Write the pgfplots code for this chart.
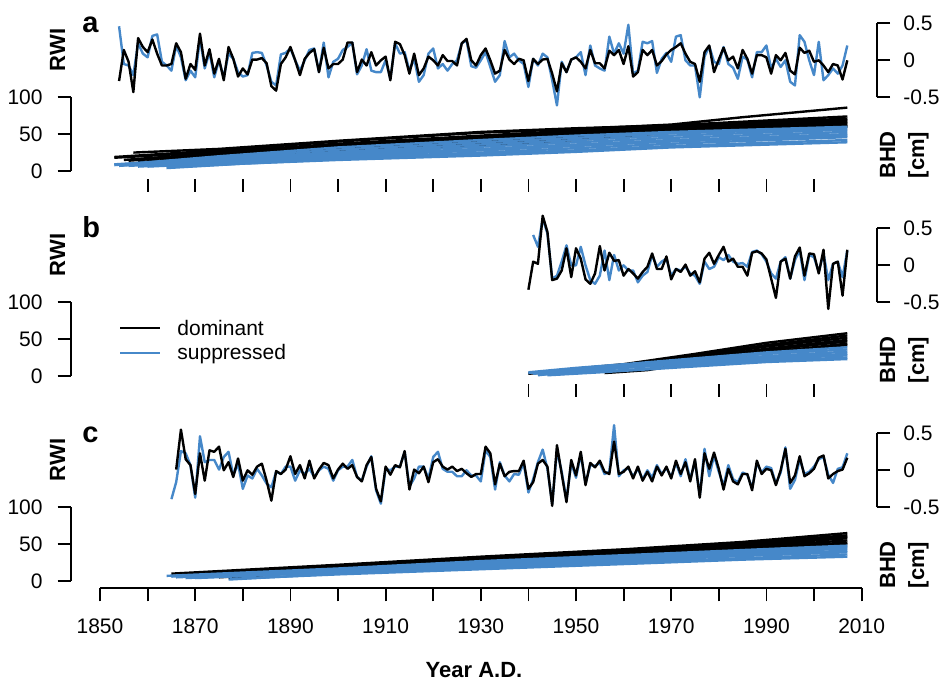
\documentclass[border=0pt]{standalone}
\usepackage{fontspec}
\setmainfont{Liberation Sans}
\usepackage{pgfplots}
\pgfplotsset{compat=1.18}
\definecolor{supp}{RGB}{70,136,201}

% one picture pixel = 0.5pt; x runs 1850 -> 2010 over 100 -> 861.6 px
\pgfplotsset{
  base/.style={scale only axis, clip=false,
    axis line style={line width=0.9pt},
    tick style={line width=0.9pt, black},
    tick align=outside, major tick length=6.5pt,
    tick label style={font=\fontsize{10.5}{12}\selectfont},
    /pgf/number format/assume math mode=true},
  rwi/.style={base, width=403.15pt, height=37pt,
    xmin=1843.84, xmax=2013.24, ymin=-0.5, ymax=0.5,
    axis x line=none, axis y line*=right,
    ytick={-0.5,0,0.5}, yticklabels={-0.5,0,0.5},
    yticklabel style={anchor=west, inner sep=0pt, xshift=6.5pt}},
  bhd/.style={base, width=403.15pt, height=36.85pt,
    xmin=1843.84, xmax=2013.24, ymin=0, ymax=100,
    axis x line=none, axis y line*=left,
    ytick={0,50,100}, yticklabels={0,50,100},
    yticklabel style={anchor=east, inner sep=0pt, xshift=-7.35pt}},
  yr/.style={base, width=380.8pt, height=5pt,
    xmin=1850, xmax=2010, ymin=0, ymax=1,
    axis y line=none, axis x line*=bottom},
  dom/.style={black, line width=1.2pt, line join=round},
  sup/.style={supp, line width=1.2pt, line join=round},
  gd/.style={black, line width=1.2pt},
  gs/.style={supp, line width=1.2pt},
}

\begin{document}
\begin{tikzpicture}[x=0.5pt,y=-0.5pt]
\tikzset{lab/.style={font=\fontsize{11}{13}\selectfont\bfseries, inner sep=0pt}}

%% ---------------- panel a ----------------
\begin{axis}[rwi, at={(35.35pt,-48.65pt)}, anchor=south west]
\addplot[sup] coordinates {
(1854,0.46)(1855,-0.05)(1856,-0.07)(1857,-0.20)(1858,0.23)(1859,0.09)(1860,0.04)(1861,0.33)(1862,0.35)(1863,-0.02)
(1864,-0.07)(1865,-0.14)(1866,0.20)(1867,0.04)(1868,-0.27)(1869,-0.14)(1870,-0.23)(1871,0.30)(1872,-0.11)(1873,0.11)
(1874,-0.23)(1875,0.00)(1876,-0.23)(1877,0.09)(1878,0.02)(1879,-0.16)(1880,-0.22)(1881,-0.20)(1882,0.10)(1883,0.11)
(1884,0.10)(1885,-0.07)(1886,-0.29)(1887,-0.34)(1888,0.08)(1889,0.10)(1890,0.16)(1891,0.00)(1892,-0.14)(1893,0.00)
(1894,0.14)(1895,0.16)(1896,-0.16)(1897,0.24)(1898,-0.23)(1899,-0.02)(1900,0.02)(1901,0.14)(1902,0.18)(1903,0.24)
(1904,-0.19)(1905,-0.07)(1906,0.15)(1907,-0.14)(1908,-0.16)(1909,-0.16)(1910,0.00)(1911,-0.25)(1912,0.23)(1913,0.09)
(1914,0.11)(1915,-0.14)(1916,0.02)(1917,-0.29)(1918,-0.20)(1919,0.09)(1920,0.16)(1921,-0.11)(1922,-0.05)(1923,-0.14)
(1924,-0.05)(1925,0.00)(1926,0.23)(1927,0.27)(1928,-0.08)(1929,-0.10)(1930,0.00)(1931,0.11)(1932,-0.09)(1933,-0.29)
(1934,-0.20)(1935,0.26)(1936,0.04)(1937,0.09)(1938,0.00)(1939,-0.05)(1940,-0.36)(1941,0.02)(1942,-0.07)(1943,0.09)
(1944,0.04)(1945,-0.27)(1946,-0.61)(1947,-0.02)(1948,-0.16)(1949,0.01)(1950,0.04)(1951,0.11)(1952,-0.20)(1953,0.20)
(1954,-0.07)(1955,-0.11)(1956,-0.14)(1957,0.32)(1958,0.09)(1959,0.23)(1960,0.09)(1961,0.48)(1962,-0.18)(1963,-0.14)
(1964,0.25)(1965,0.23)(1966,0.26)(1967,-0.17)(1968,0.02)(1969,0.10)(1970,-0.02)(1971,0.32)(1972,0.34)(1973,0.00)
(1974,-0.07)(1975,-0.07)(1976,-0.50)(1977,0.05)(1978,0.19)(1979,-0.02)(1980,-0.05)(1981,0.18)(1982,-0.05)(1983,-0.10)
(1984,-0.25)(1985,0.05)(1986,0.01)(1987,-0.23)(1988,0.11)(1989,0.11)(1990,0.20)(1991,-0.11)(1992,0.02)(1993,-0.09)
(1994,0.00)(1995,-0.29)(1996,-0.34)(1997,0.34)(1998,0.25)(1999,0.00)(2000,-0.20)(2001,0.25)(2002,-0.27)(2003,-0.20)
(2004,-0.11)(2005,-0.18)(2006,-0.07)(2007,0.20)};
\addplot[dom] coordinates {
(1854,-0.28)(1855,0.14)(1856,-0.02)(1857,-0.43)(1858,0.30)(1859,0.18)(1860,0.11)(1861,0.28)(1862,0.09)(1863,-0.07)
(1864,-0.07)(1865,-0.05)(1866,0.23)(1867,0.11)(1868,-0.25)(1869,-0.05)(1870,-0.13)(1871,0.36)(1872,-0.07)(1873,0.15)
(1874,-0.18)(1875,0.02)(1876,-0.27)(1877,0.18)(1878,0.02)(1879,-0.22)(1880,-0.11)(1881,-0.19)(1882,0.01)(1883,0.01)
(1884,0.03)(1885,-0.04)(1886,-0.35)(1887,-0.41)(1888,-0.05)(1889,0.04)(1890,0.18)(1891,0.00)(1892,-0.20)(1893,0.02)
(1894,0.10)(1895,0.15)(1896,-0.16)(1897,0.17)(1898,-0.11)(1899,-0.05)(1900,-0.05)(1901,0.01)(1902,0.24)(1903,0.24)
(1904,-0.16)(1905,0.01)(1906,-0.07)(1907,0.11)(1908,-0.07)(1909,0.00)(1910,0.05)(1911,-0.27)(1912,0.25)(1913,0.22)
(1914,0.07)(1915,-0.18)(1916,0.09)(1917,-0.20)(1918,-0.11)(1919,0.05)(1920,0.00)(1921,-0.07)(1922,0.07)(1923,-0.01)
(1924,-0.01)(1925,-0.07)(1926,0.23)(1927,0.29)(1928,0.00)(1929,-0.07)(1930,0.07)(1931,0.16)(1932,0.00)(1933,-0.18)
(1934,-0.14)(1935,0.14)(1936,0.01)(1937,-0.05)(1938,0.02)(1939,0.00)(1940,-0.28)(1941,0.02)(1942,-0.05)(1943,0.01)
(1944,0.02)(1945,-0.18)(1946,-0.42)(1947,-0.04)(1948,-0.16)(1949,0.01)(1950,0.04)(1951,-0.02)(1952,-0.11)(1953,0.14)
(1954,-0.04)(1955,-0.04)(1956,-0.11)(1957,0.13)(1958,0.07)(1959,0.14)(1960,-0.05)(1961,0.19)(1962,-0.22)(1963,-0.16)
(1964,0.14)(1965,0.07)(1966,0.14)(1967,-0.07)(1968,-0.01)(1969,0.08)(1970,0.14)(1971,0.18)(1972,0.23)(1973,0.09)
(1974,-0.02)(1975,-0.05)(1976,-0.29)(1977,0.11)(1978,0.20)(1979,-0.16)(1980,0.01)(1981,0.17)(1982,0.00)(1983,0.05)
(1984,-0.11)(1985,0.14)(1986,0.02)(1987,-0.18)(1988,0.07)(1989,0.07)(1990,0.04)(1991,-0.18)(1992,0.07)(1993,0.00)
(1994,0.10)(1995,-0.14)(1996,-0.19)(1997,0.17)(1998,0.10)(1999,0.13)(2000,-0.02)(2001,0.00)(2002,-0.07)(2003,-0.16)
(2004,-0.05)(2005,-0.07)(2006,-0.26)(2007,0.00)};
\end{axis}

\begin{axis}[bhd, at={(35.35pt,-85.5pt)}, anchor=south west]
\addplot[gd] coordinates {(1853,19)(1875,28)(1900,40)(1930,52)(1950,57)(1970,63)(1985,73)(2007,86)};
\addplot[gd] coordinates {(1857,25)(1875,30)(1900,41)(1930,53)(1950,58)(1970,62)(2007,74)};
\addplot[gd] coordinates {(1853,18)(1880,28)(1900,37)(1930,48)(1950,55)(1970,61)(2007,71)};
\addplot[gd] coordinates {(1855,15)(1880,27)(1900,36)(1930,47)(1950,54)(1970,59)(2007,69)};
\addplot[gd] coordinates {(1856,14)(1880,25)(1900,34)(1930,45)(1950,52)(1970,58)(2007,67)};
\addplot[gd] coordinates {(1858,12)(1880,23)(1900,32)(1930,43)(1950,50)(1970,56)(2007,65)};
\addplot[gd] coordinates {(1860,12)(1880,22)(1900,30)(1930,40)(1950,47)(1970,54)(2007,63)};
\addplot[gd] coordinates {(1862,10)(1880,20)(1900,28)(1930,37)(1950,44)(1970,52)(2007,61)};
\addplot[gd] coordinates {(1870,15)(1900,25)(1930,35)(1950,42)(1970,52)(2007,60)};
\addplot[gs] coordinates {(1853,8)(1875,20)(1900,32)(1930,42)(1950,48)(1970,53)(2007,60)};
\addplot[gs] coordinates {(1853,9)(1875,18)(1900,29)(1930,39)(1950,45)(1970,51)(2007,58)};
\addplot[gs] coordinates {(1854,7)(1875,16)(1900,26)(1930,36)(1950,42)(1970,48)(2007,56)};
\addplot[gs] coordinates {(1855,8)(1880,17)(1900,24)(1930,33)(1950,39)(1970,45)(2007,53)};
\addplot[gs] coordinates {(1856,7)(1880,15)(1900,22)(1930,30)(1950,36)(1970,42)(2007,50)};
\addplot[gs] coordinates {(1858,6)(1880,13)(1900,20)(1930,28)(1950,34)(1970,40)(2007,48)};
\addplot[gs] coordinates {(1860,6)(1880,12)(1900,18)(1930,25)(1950,31)(1970,37)(2007,46)};
\addplot[gs] coordinates {(1864,4)(1880,10)(1900,16)(1930,23)(1950,28)(1970,34)(2007,42)};
\addplot[gs] coordinates {(1864,5)(1880,10)(1900,15)(1930,21)(1950,26)(1970,32)(2007,39)};
\end{axis}

\begin{axis}[yr, at={(50pt,-89.3pt)}, anchor=south west,
  x axis line style={draw=none},
  xtick={1860,1870,...,2000}, xticklabels={}]
\end{axis}

%% ---------------- panel b ----------------
\begin{axis}[rwi, at={(35.35pt,-151.15pt)}, anchor=south west]
\addplot[sup] coordinates {
(1941,0.41)(1942,0.25)(1943,0.63)(1944,0.43)(1945,-0.18)(1946,-0.14)(1947,0.05)(1948,0.27)(1949,0.00)(1950,0.00)
(1951,0.25)(1952,0.00)(1953,-0.20)(1954,-0.25)(1955,-0.14)(1956,0.20)(1957,-0.20)(1958,0.14)(1959,-0.07)(1960,0.00)
(1961,-0.07)(1962,-0.07)(1963,-0.23)(1964,-0.14)(1965,-0.09)(1966,0.14)(1967,-0.02)(1968,0.05)(1969,0.09)(1970,-0.14)
(1971,-0.05)(1972,-0.07)(1973,-0.02)(1974,-0.11)(1975,-0.14)(1976,-0.25)(1977,0.05)(1978,-0.05)(1979,-0.02)(1980,0.11)
(1981,0.07)(1982,0.14)(1983,0.05)(1984,0.02)(1985,0.03)(1986,-0.02)(1987,0.18)(1988,0.20)(1989,0.15)(1990,0.05)
(1991,-0.11)(1992,-0.18)(1993,0.05)(1994,0.11)(1995,-0.18)(1996,0.07)(1997,0.20)(1998,-0.20)(1999,0.14)(2000,0.11)
(2001,-0.09)(2002,0.16)(2003,-0.20)(2004,0.02)(2005,0.05)(2006,-0.16)(2007,0.20)};
\addplot[dom] coordinates {
(1940,-0.33)(1941,0.05)(1942,0.02)(1943,0.67)(1944,0.45)(1945,-0.20)(1946,-0.18)(1947,-0.07)(1948,0.23)(1949,-0.16)
(1950,0.23)(1951,0.09)(1952,-0.19)(1953,-0.25)(1954,-0.11)(1955,0.26)(1956,-0.07)(1957,0.17)(1958,0.06)(1959,0.07)
(1960,-0.14)(1961,-0.05)(1962,-0.11)(1963,-0.18)(1964,-0.09)(1965,-0.02)(1966,0.16)(1967,-0.05)(1968,-0.05)(1969,0.12)
(1970,-0.19)(1971,-0.05)(1972,-0.09)(1973,0.01)(1974,-0.14)(1975,-0.08)(1976,-0.23)(1977,0.09)(1978,0.17)(1979,0.02)
(1980,0.14)(1981,0.25)(1982,0.05)(1983,0.09)(1984,-0.02)(1985,-0.02)(1986,-0.14)(1987,0.17)(1988,0.19)(1989,0.16)
(1990,0.08)(1991,-0.18)(1992,-0.44)(1993,0.05)(1994,0.09)(1995,-0.18)(1996,0.12)(1997,0.24)(1998,-0.14)(1999,0.16)
(2000,0.15)(2001,-0.11)(2002,0.21)(2003,-0.59)(2004,0.02)(2005,0.05)(2006,-0.41)(2007,0.21)};
\end{axis}

\begin{axis}[bhd, at={(35.35pt,-188pt)}, anchor=south west]
\addplot[gd] coordinates {(1940,4)(1960,16)(1975,30)(1990,45)(2007,58)};
\addplot[gd] coordinates {(1940,3)(1960,15)(1975,28)(1990,42)(2007,55)};
\addplot[gd] coordinates {(1941,4)(1960,14)(1975,26)(1990,40)(2007,52)};
\addplot[gd] coordinates {(1942,3)(1960,13)(1975,24)(1990,37)(2007,49)};
\addplot[gd] coordinates {(1943,3)(1960,12)(1975,23)(1990,35)(2007,47)};
\addplot[gd] coordinates {(1956,4)(1965,8)(1975,18)(1990,32)(2007,44)};
\addplot[gd] coordinates {(1944,3)(1960,12)(1975,22)(1990,33)(2007,42)};
\addplot[gs] coordinates {(1940,5)(1950,11)(1960,16)(1975,24)(1990,32)(2007,39)};
\addplot[gs] coordinates {(1940,4)(1950,10)(1960,15)(1975,22)(1990,30)(2007,36)};
\addplot[gs] coordinates {(1941,3)(1950,9)(1960,14)(1975,20)(1990,27)(2007,33)};
\addplot[gs] coordinates {(1942,1)(1950,7)(1960,12)(1975,18)(1990,25)(2007,30)};
\addplot[gs] coordinates {(1943,2)(1950,6)(1960,11)(1975,17)(1990,23)(2007,28)};
\addplot[gs] coordinates {(1945,2)(1955,6)(1965,10)(1980,17)(1995,22)(2007,25)};
\addplot[gs] coordinates {(1944,1)(1955,5)(1970,11)(1990,19)(2007,23)};
\end{axis}

\begin{axis}[yr, at={(50pt,-191.8pt)}, anchor=south west,
  x axis line style={draw=none},
  xtick={1940,1950,...,2000}, xticklabels={}]
\end{axis}

%% ---------------- panel c ----------------
\begin{axis}[rwi, at={(35.35pt,-253.65pt)}, anchor=south west]
\addplot[sup] coordinates {
(1865,-0.39)(1866,-0.16)(1867,0.26)(1868,0.23)(1869,0.07)(1870,-0.37)(1871,0.46)(1872,0.11)(1873,0.14)(1874,0.14)
(1875,0.01)(1876,0.18)(1877,0.25)(1878,-0.07)(1879,0.09)(1880,-0.25)(1881,-0.07)(1882,-0.11)(1883,0.02)(1884,-0.07)
(1885,-0.18)(1886,-0.23)(1887,-0.02)(1888,-0.05)(1889,0.05)(1890,0.05)(1891,-0.14)(1892,0.00)(1893,-0.05)(1894,0.02)
(1895,-0.09)(1896,0.00)(1897,0.05)(1898,0.02)(1899,-0.14)(1900,0.00)(1901,0.05)(1902,0.05)(1903,0.14)(1904,-0.09)
(1905,-0.14)(1906,0.05)(1907,0.19)(1908,-0.27)(1909,-0.45)(1910,0.02)(1911,0.00)(1912,0.05)(1913,0.05)(1914,0.25)
(1915,-0.22)(1916,-0.11)(1917,0.05)(1918,0.05)(1919,-0.11)(1920,0.18)(1921,0.25)(1922,0.02)(1923,-0.02)(1924,-0.02)
(1925,-0.08)(1926,-0.08)(1927,0.00)(1928,-0.07)(1929,-0.07)(1930,-0.15)(1931,0.27)(1932,0.18)(1933,-0.26)(1934,0.11)
(1935,-0.07)(1936,-0.15)(1937,-0.05)(1938,-0.06)(1939,0.10)(1940,-0.30)(1941,-0.12)(1942,0.11)(1943,0.28)(1944,0.02)
(1945,-0.45)(1946,0.27)(1947,-0.02)(1948,-0.40)(1949,0.10)(1950,-0.10)(1951,0.22)(1952,-0.18)(1953,0.07)(1954,0.06)
(1955,0.10)(1956,-0.05)(1957,-0.02)(1958,0.61)(1959,-0.08)(1960,0.00)(1961,0.03)(1962,-0.08)(1963,0.02)(1964,-0.12)
(1965,0.00)(1966,-0.10)(1967,0.07)(1968,-0.05)(1969,0.03)(1970,-0.09)(1971,0.10)(1972,-0.08)(1973,0.15)(1974,-0.12)
(1975,0.12)(1976,-0.34)(1977,0.29)(1978,-0.08)(1979,0.20)(1980,-0.02)(1981,-0.21)(1982,0.07)(1983,-0.12)(1984,-0.16)
(1985,-0.03)(1986,-0.06)(1987,-0.24)(1988,0.10)(1989,-0.03)(1990,0.05)(1991,0.03)(1992,-0.18)(1993,-0.03)(1994,0.31)
(1995,-0.25)(1996,-0.13)(1997,0.15)(1998,-0.05)(1999,-0.02)(2000,0.05)(2001,0.15)(2002,0.18)(2003,-0.06)(2004,-0.17)
(2005,0.02)(2006,0.04)(2007,0.23)};
\addplot[dom] coordinates {
(1866,0.01)(1867,0.55)(1868,0.15)(1869,0.07)(1870,-0.32)(1871,0.23)(1872,-0.14)(1873,0.27)(1874,0.25)(1875,0.32)
(1876,0.00)(1877,0.11)(1878,-0.09)(1879,0.16)(1880,-0.14)(1881,0.00)(1882,-0.06)(1883,0.05)(1884,0.09)(1885,-0.14)
(1886,-0.41)(1887,-0.01)(1888,-0.05)(1889,0.01)(1890,0.19)(1891,-0.05)(1892,0.07)(1893,-0.11)(1894,0.13)(1895,-0.11)
(1896,0.01)(1897,0.10)(1898,0.07)(1899,-0.11)(1900,0.01)(1901,0.09)(1902,0.02)(1903,0.07)(1904,-0.09)(1905,-0.15)
(1906,0.07)(1907,0.18)(1908,-0.25)(1909,-0.42)(1910,0.05)(1911,-0.06)(1912,0.07)(1913,0.04)(1914,0.26)(1915,-0.26)
(1916,0.01)(1917,-0.04)(1918,0.05)(1919,-0.16)(1920,0.11)(1921,0.15)(1922,0.05)(1923,0.01)(1924,0.05)(1925,-0.01)
(1926,0.02)(1927,-0.04)(1928,-0.09)(1929,-0.05)(1930,-0.05)(1931,0.32)(1932,0.23)(1933,-0.19)(1934,0.09)(1935,-0.08)
(1936,-0.02)(1937,-0.01)(1938,-0.01)(1939,0.13)(1940,-0.25)(1941,-0.16)(1942,0.09)(1943,0.14)(1944,0.05)(1945,-0.48)
(1946,0.34)(1947,-0.05)(1948,-0.43)(1949,0.14)(1950,-0.07)(1951,0.25)(1952,-0.20)(1953,0.10)(1954,0.04)(1955,0.13)
(1956,-0.02)(1957,-0.05)(1958,0.39)(1959,-0.05)(1960,-0.02)(1961,0.05)(1962,-0.11)(1963,0.05)(1964,-0.14)(1965,-0.02)
(1966,-0.15)(1967,0.05)(1968,-0.07)(1969,0.05)(1970,-0.11)(1971,0.13)(1972,-0.05)(1973,0.11)(1974,-0.15)(1975,0.15)
(1976,-0.37)(1977,0.23)(1978,0.02)(1979,0.24)(1980,0.02)(1981,-0.26)(1982,0.02)(1983,-0.15)(1984,-0.19)(1985,-0.05)
(1986,-0.05)(1987,-0.27)(1988,0.13)(1989,-0.05)(1990,0.02)(1991,0.00)(1992,-0.20)(1993,0.00)(1994,0.29)(1995,-0.17)
(1996,-0.07)(1997,0.19)(1998,-0.08)(1999,-0.04)(2000,0.02)(2001,0.17)(2002,0.20)(2003,-0.11)(2004,-0.05)(2005,-0.01)
(2006,0.01)(2007,0.17)};
\end{axis}

\begin{axis}[bhd, at={(35.35pt,-290.5pt)}, anchor=south west]
\addplot[gd] coordinates {(1865,10)(1900,22)(1930,33)(1960,43)(1985,53)(2007,65)};
\addplot[gd] coordinates {(1866,9)(1900,21)(1930,32)(1960,42)(1985,51)(2007,62)};
\addplot[gd] coordinates {(1868,8)(1900,20)(1930,31)(1960,41)(1985,50)(2007,60)};
\addplot[gd] coordinates {(1870,8)(1900,19)(1930,30)(1960,40)(1985,48)(2007,58)};
\addplot[gd] coordinates {(1872,6)(1900,18)(1930,29)(1960,38)(1985,46)(2007,55)};
\addplot[gd] coordinates {(1877,4)(1900,16)(1930,28)(1960,37)(1985,45)(2007,52)};
\addplot[gd] coordinates {(1875,5)(1900,15)(1930,26)(1960,35)(1985,43)(2007,50)};
\addplot[gs] coordinates {(1864,7)(1900,17)(1930,27)(1960,35)(1985,42)(2007,48)};
\addplot[gs] coordinates {(1865,6)(1900,16)(1930,25)(1960,33)(1985,40)(2007,46)};
\addplot[gs] coordinates {(1866,5)(1900,14)(1930,23)(1960,31)(1985,38)(2007,44)};
\addplot[gs] coordinates {(1868,4)(1900,13)(1930,21)(1960,29)(1985,36)(2007,41)};
\addplot[gs] coordinates {(1870,4)(1900,12)(1930,20)(1960,27)(1985,34)(2007,39)};
\addplot[gs] coordinates {(1877,2)(1900,10)(1930,18)(1960,25)(1985,31)(2007,36)};
\addplot[gs] coordinates {(1878,3)(1900,9)(1930,16)(1960,23)(1985,29)(2007,33)};
\end{axis}

\begin{axis}[yr, at={(50pt,-294.15pt)}, anchor=south west,
  xtick={1850,1860,...,2010},
  xticklabels={1850,,1870,,1890,,1910,,1930,,1950,,1970,,1990,,2010},
  xticklabel style={anchor=north, inner sep=0pt, yshift=-8.35pt}]
\end{axis}

%% ---------------- labels ----------------
\foreach \dy/\p in {0/a,205/b,410/c}{
  \node[font=\fontsize{14.5}{16}\selectfont\bfseries, inner sep=0pt, anchor=base west] at (82,32+\dy) {\p};
  \node[lab, rotate=90, anchor=base] at (65,50+\dy) {RWI};
  \node[lab, rotate=90, anchor=base] at (895,155+\dy) {BHD};
  \node[lab, rotate=90, anchor=base] at (924,155+\dy) {[cm]};
}
\node[lab, anchor=base] at (474,677) {Year A.D.};

% legend of panel b
\draw[black, line width=1.2pt] (120,328) -- (160,328);
\draw[supp, line width=1.2pt] (120,353) -- (160,353);
\node[font=\fontsize{10.5}{12}\selectfont, inner sep=0pt, anchor=base west] at (177,335) {dominant};
\node[font=\fontsize{10.5}{12}\selectfont, inner sep=0pt, anchor=base west] at (177,359.5) {suppressed};

\pgfresetboundingbox
\useasboundingbox (0,0) rectangle (942,681);
\end{tikzpicture}
\end{document}
